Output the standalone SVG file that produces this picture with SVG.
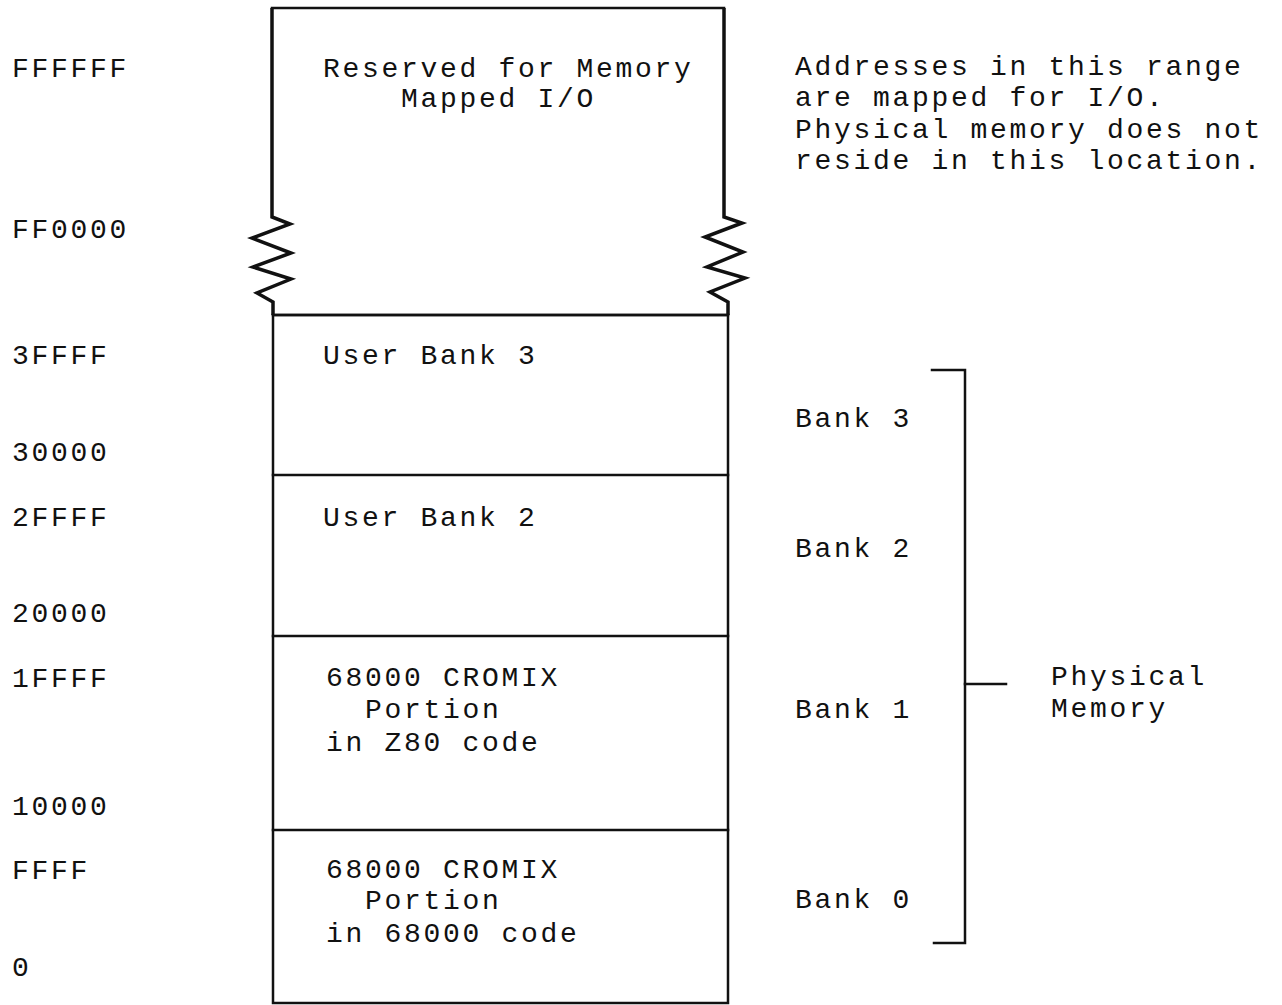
<svg xmlns="http://www.w3.org/2000/svg" width="1282" height="1005" viewBox="0 0 1282 1005">
<style>
text{font-family:"Liberation Mono","Courier New",monospace;font-size:28px;letter-spacing:2.7px;fill:#111}
.ln{fill:none;stroke:#111;stroke-width:2.5;stroke-linecap:square}
.zz{fill:none;stroke:#111;stroke-width:3.5;stroke-linejoin:miter}
</style>
<rect width="1282" height="1005" fill="#fff"/>
<g id="addresses">
<text x="12" y="77">FFFFFF</text>
<text x="12" y="238">FF0000</text>
<text x="12" y="364">3FFFF</text>
<text x="12" y="461">30000</text>
<text x="12" y="526">2FFFF</text>
<text x="12" y="622">20000</text>
<text x="12" y="687">1FFFF</text>
<text x="12" y="815">10000</text>
<text x="12" y="879">FFFF</text>
<text x="12" y="976">0</text>
</g>
<g id="io-region">
<path class="ln" d="M272,8 H724"/>
<path class="zz" d="M272,8 V217 L290,224 L252,238 L291,253 L253,267 L291,279 L257,293 L273,302 V315"/>
<path class="zz" d="M724,8 V217 L742,223 L705,237 L743,252 L707,267 L745,278 L710,292 L728,302 V315"/>
<text x="323" y="77">Reserved for Memory</text>
<text x="401" y="107">Mapped I/O</text>
</g>
<g id="memory-column">
<path class="ln" d="M273,315 V1003 H728 V315 Z"/>
</g>
<g id="user-bank-3">
<path class="ln" d="M273,315 H728"/>
<text x="323" y="364">User Bank 3</text>
</g>
<g id="user-bank-2">
<path class="ln" d="M273,475 H728"/>
<text x="323" y="526">User Bank 2</text>
</g>
<g id="cromix-z80">
<path class="ln" d="M273,636 H728"/>
<text x="326" y="686">68000 CROMIX</text>
<text x="365" y="718">Portion</text>
<text x="326" y="751">in Z80 code</text>
</g>
<g id="cromix-68000">
<path class="ln" d="M273,830 H728"/>
<text x="326" y="878">68000 CROMIX</text>
<text x="365" y="909">Portion</text>
<text x="326" y="942">in 68000 code</text>
</g>
<g id="io-note">
<text x="795" y="75">Addresses in this range</text>
<text x="795" y="106">are mapped for I/O.</text>
<text x="795" y="138">Physical memory does not</text>
<text x="795" y="169">reside in this location.</text>
</g>
<g id="banks">
<text x="795" y="427">Bank 3</text>
<text x="795" y="557">Bank 2</text>
<text x="795" y="718">Bank 1</text>
<text x="795" y="908">Bank 0</text>
</g>
<g id="connectors">
<path class="ln" d="M932,370 H965 V943 H934"/>
<path class="ln" d="M965,684 H1006"/>
</g>
<g id="physical-memory">
<text x="1051" y="685">Physical</text>
<text x="1051" y="717">Memory</text>
</g>
</svg>
